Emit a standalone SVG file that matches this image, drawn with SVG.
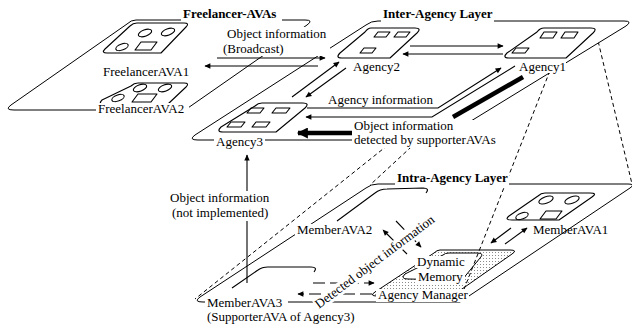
<svg xmlns="http://www.w3.org/2000/svg" width="632" height="327" viewBox="0 0 632 327">
<style>
.ln{fill:none;stroke:#000;stroke-width:1;stroke-linejoin:round}
.pl{fill:#fff;stroke:#000;stroke-width:1;stroke-linejoin:round}
.sm{fill:none;stroke:#000;stroke-width:1.1;stroke-linejoin:round}
.dsh{fill:none;stroke:#000;stroke-width:1;stroke-dasharray:4 3}
.dar{fill:none;stroke:#000;stroke-width:1.1;stroke-dasharray:12 5}
.ar{fill:none;stroke:#000;stroke-width:1.1}
.thick{fill:none;stroke:#000;stroke-width:4.5}
.t{font-family:"Liberation Serif","Times New Roman",serif;font-size:13px;fill:#000}
.b{font-weight:bold}
.bg{fill:#fff}
</style>
<defs>
<marker id="ah" viewBox="0 0 10 10" refX="9" refY="5" markerWidth="8" markerHeight="6" markerUnits="userSpaceOnUse" orient="auto"><path d="M0,0.5 L10,5 L0,9.5 Z" fill="#000"/></marker>
<marker id="ahb" viewBox="0 0 10 10" refX="9" refY="5" markerWidth="13" markerHeight="11" markerUnits="userSpaceOnUse" orient="auto"><path d="M0,0 L10,5 L0,10 Z" fill="#000"/></marker>
<pattern id="dots" width="3" height="3" patternUnits="userSpaceOnUse"><rect width="1" height="1" fill="#8a8a8a"/></pattern>
</defs>

<!-- Intra-Agency layer -->
<g id="intra-agency-layer">
<path class="ln" d="M378,184 L628,184 Q636,184 630,188 L460,302 L203,302 Q193,302 200,297 L366,188 Q371,184 378,184 Z"/>
</g>
<g id="agency-manager">
<path d="M440,250 L510,250 Q518,250 512,254 L452,296 L377,296 Q369,296 375,292 L434,253 Q437,250 440,250 Z" fill="url(#dots)" stroke="#000"/>
</g>
<g id="dynamic-memory">
<path d="M449,253 L477,253 Q485,253 480,258 L462,280 L408,279 Q400,279 405,274 L443,255 Q445,253 449,253 Z" fill="#fff" stroke="#000"/>
</g>
<g id="memberAVA1">
<path class="sm" d="M545,193 L590,193 Q598,193 592,197 L559,220 L512,220 Q504,220 509,216 L538,196 Q541,193 545,193 Z"/>
<ellipse class="sm" cx="546" cy="200" rx="7.5" ry="3.3" transform="rotate(-20 546 200)"/>
<ellipse class="sm" cx="572" cy="200" rx="7.5" ry="3.3" transform="rotate(-20 572 200)"/>
<ellipse class="sm" cx="522" cy="216" rx="6.5" ry="3" transform="rotate(-20 522 216)"/>
<path class="sm" d="M540,219 L546,211 L562,211 L556,219 Z"/>
</g>
<g id="memberAVA2">
<path class="sm" d="M337,221 L375,193 Q380,189 387,189 L423,188 Q430,188 426,193"/>
</g>
<g id="memberAVA3">
<path class="sm" d="M232,288 L258,270 Q262,267 268,267 L311,267 Q318,267 314,272"/>
</g>

<!-- projection lines -->
<g id="projections">
<path class="dsh" d="M497,58 L195,299"/>
<path class="dsh" d="M540,28 L370,185"/>
<path class="dsh" d="M555,58 L459,302"/>
<path class="dsh" d="M595,28 L632,184"/>
</g>

<!-- Freelancer and Inter-Agency layers -->
<g id="freelancer-layer">
<path class="pl" d="M136,20 L305,20 Q314,20 307,25 L185,110 L14,110 Q4,110 11,105 L127,24 Q131,20 136,20 Z"/>
</g>
<g id="inter-agency-layer">
<path class="pl" d="M378,21 L624,21 Q633,21 626,26 L440,140 L198,140 Q188,140 195,135 L366,25 Q371,21 378,21 Z"/>
</g>

<g id="freelancerAVA1">
<path class="sm" d="M137,23 L184,23 Q190,23 186,27 L161,53 L107,53 Q101,53 105,49 L130,26 Q133,23 137,23 Z"/>
<ellipse class="sm" cx="145" cy="33" rx="7" ry="3.2" transform="rotate(-20 145 33)"/>
<ellipse class="sm" cx="168" cy="32" rx="7" ry="3.2" transform="rotate(-20 168 32)"/>
<ellipse class="sm" cx="122" cy="47" rx="6.5" ry="3" transform="rotate(-20 122 47)"/>
<path class="sm" d="M135,50 L141,42 L157,42 L151,50 Z"/>
</g>
<g id="freelancerAVA2">
<path class="sm" d="M138,83 L184,83 Q190,83 186,87 L168,104 L104,104 Q98,104 102,100 L131,86 Q134,83 138,83 Z"/>
<ellipse class="sm" cx="140" cy="88" rx="7" ry="3.2" transform="rotate(-20 140 88)"/>
<ellipse class="sm" cx="165" cy="88" rx="7" ry="3.2" transform="rotate(-20 165 88)"/>
<ellipse class="sm" cx="118" cy="98" rx="6.5" ry="3" transform="rotate(-20 118 98)"/>
<path class="sm" d="M132,102 L138,94 L157,94 L151,102 Z"/>
</g>
<g id="agency2">
<path class="sm" d="M371,28 L415,28 Q422,28 417,33 L390,58 L342,58 Q335,58 340,53 L365,32 Q368,28 371,28 Z"/>
<path class="sm" d="M374,37 L378,32 L390,32 L386,37 Z"/>
<path class="sm" d="M394,37 L398,32 L410,32 L406,37 Z"/>
<path class="sm" d="M360,53 L364,48 L376,48 L372,53 Z"/>
</g>
<g id="agency1">
<path class="sm" d="M544,28 L591,28 Q598,28 593,33 L566,58 L509,58 Q502,58 507,53 L537,32 Q540,28 544,28 Z"/>
<path class="sm" d="M540,38 L544,32 L557,32 L553,38 Z"/>
<path class="sm" d="M561,38 L565,32 L578,32 L574,38 Z"/>
<path class="sm" d="M512,53 L516,48 L529,48 L525,53 Z"/>
</g>
<g id="agency3">
<path class="sm" d="M262,103 L303,103 Q310,103 305,108 L276,132 L223,132 Q216,132 221,127 L255,106 Q258,103 262,103 Z"/>
<path class="sm" d="M247,113 L251,108 L264,108 L260,113 Z"/>
<path class="sm" d="M272,113 L276,108 L290,108 L286,113 Z"/>
<path class="sm" d="M227,127 L231,122 L245,122 L241,127 Z"/>
<path class="sm" d="M252,127 L256,122 L270,122 L266,127 Z"/>
</g>

<!-- connectors -->
<g id="connectors">
<path class="ar" d="M217,58 L325,58" marker-end="url(#ah)"/>
<path class="ar" d="M318,66 L205,66" marker-end="url(#ah)"/>
<path class="ar" d="M410,46 L503,46" marker-end="url(#ah)"/>
<path class="ar" d="M503,54 L403,54" marker-end="url(#ah)"/>
<path class="ar" d="M292,97 L339,62" marker-end="url(#ah)"/>
<path class="ar" d="M346,68 L306,97" marker-end="url(#ah)"/>
<path class="ar" d="M307,108 L438,108 L501,68" marker-end="url(#ah)"/>
<path class="ar" d="M515,66 L432,117 L306,117" marker-end="url(#ah)"/>
<path class="thick" d="M523,77 L453,117"/>
<path class="thick" d="M352,133 L298,133" marker-end="url(#ahb)"/>
<path class="ar" d="M247,283 L247,155" marker-end="url(#ah)"/>
<path class="ar" d="M511,228 L491,243" marker-end="url(#ah)"/>
<path class="ar" d="M505,244 L527,228" marker-end="url(#ah)"/>
<path class="dar" d="M313,283 L374,283" marker-end="url(#ah)"/>
<path class="dar" d="M372,294 L298,294" marker-end="url(#ah)"/>
<path class="dar" d="M396,221 L421,247" marker-end="url(#ah)"/>
<path class="dar" d="M407,254 L383,230" marker-end="url(#ah)"/>
</g>

<!-- labels -->
<g id="labels">
<rect class="bg" x="181" y="8" width="101" height="14"/>
<text class="t b" x="183" y="18">Freelancer-AVAs</text>
<rect class="bg" x="381" y="8" width="113" height="14"/>
<text class="t b" x="383" y="18">Inter-Agency Layer</text>
<rect class="bg" x="395" y="172" width="114" height="14"/>
<text class="t b" x="397" y="182">Intra-Agency Layer</text>
<rect class="bg" x="222" y="27" width="108" height="29"/>
<text class="t" x="227" y="38">Object information</text>
<text class="t" x="223" y="53">(Broadcast)</text>
<text class="t" x="103" y="76">FreelancerAVA1</text>
<rect class="bg" x="96" y="103" width="93" height="13"/>
<text class="t" x="98" y="113">FreelancerAVA2</text>
<text class="t" x="353" y="71">Agency2</text>
<rect class="bg" x="517" y="61" width="49" height="12"/>
<text class="t" x="519" y="71">Agency1</text>
<rect class="bg" x="214" y="135" width="51" height="13"/>
<text class="t" x="216" y="146">Agency3</text>
<text class="t" x="328" y="104">Agency information</text>
<rect class="bg" x="352" y="120" width="150" height="28"/>
<text class="t" x="354" y="130">Object information</text>
<text class="t" x="354" y="144">detected by supporterAVAs</text>
<rect class="bg" x="168" y="191" width="102" height="30"/>
<text class="t" x="170" y="202">Object information</text>
<text class="t" x="172" y="217">(not implemented)</text>
<rect class="bg" x="295" y="224" width="81" height="13"/>
<text class="t" x="297" y="234">MemberAVA2</text>
<text class="t" x="533" y="234">MemberAVA1</text>
<rect class="bg" x="415" y="256" width="52" height="12"/>
<text class="t" x="417" y="266">Dynamic</text>
<rect class="bg" x="416" y="271" width="49" height="12"/>
<text class="t" x="418" y="281">Memory</text>
<rect class="bg" x="376" y="289" width="93" height="13"/>
<text class="t" x="378" y="299">Agency Manager</text>
<rect class="bg" x="205" y="297" width="83" height="13"/>
<text class="t" x="207" y="307">MemberAVA3</text>
<text class="t" x="207" y="321">(SupporterAVA of Agency3)</text>
<g transform="translate(319,309) rotate(-37)">
<rect class="bg" x="-1" y="-10" width="152" height="13"/>
<text class="t" x="0" y="0">Detected object information</text>
</g>
</g>
</svg>
